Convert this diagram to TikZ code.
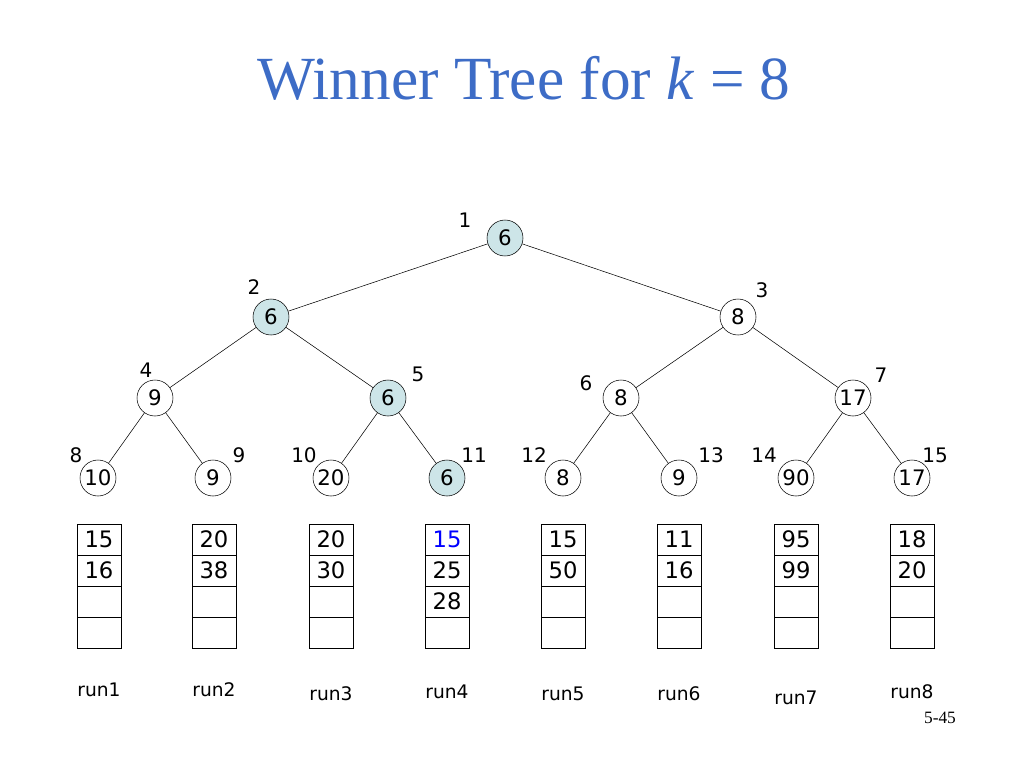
\documentclass[tikz,border=0pt]{standalone}
\usepackage{fontspec}
\setmainfont{DejaVu Sans}
\newfontfamily\ttl{Liberation Serif}
\definecolor{winfill}{HTML}{CDE5E8}
\definecolor{ttlc}{HTML}{3D6CC6}
\begin{document}
\begin{tikzpicture}[x=0.75pt,y=-0.75pt,
 nd/.style={circle,draw,minimum size=27pt,inner sep=0pt,font=\fontsize{16}{16}\selectfont},
 win/.style={nd,fill=winfill},
 idx/.style={font=\fontsize{15}{15}\selectfont},
 cell/.style={draw,minimum width=33pt,minimum height=23.25pt,inner sep=0pt,font=\fontsize{17}{17}\selectfont},
 rl/.style={font=\fontsize{14}{14}\selectfont}]
\useasboundingbox (0,0) rectangle (1024,768);
\node[font=\ttl\fontsize{46}{46}\selectfont,text=ttlc] at (524,78) {Winner Tree for \textit{k} = 8};
\node[font=\ttl\fontsize{13}{13}\selectfont] at (940,718) {5-45};
\node[win] (n1) at (505,238) {6};
\node[win] (n2) at (271,317) {6};
\node[nd] (n3) at (738,317) {8};
\node[nd] (n4) at (155,398) {9};
\node[win] (n5) at (388,398) {6};
\node[nd] (n6) at (621,398) {8};
\node[nd] (n7) at (853,398) {17};
\foreach \i/\x/\v in {8/98/10,9/213/9,10/331/20,12/563/8,13/679/9,14/796/90,15/912/17}
  \node[nd] (n\i) at (\x,478) {\v};
\node[win] (n11) at (447,478) {6};
\foreach \a/\b in {1/2,1/3,2/4,2/5,3/6,3/7,4/8,4/9,5/10,5/11,6/12,6/13,7/14,7/15}
  \draw (n\a) -- (n\b);
\foreach \t/\x/\y in {1/465/220,2/254/287,3/762/290,4/146/370,5/418/374,6/586/383,7/881/375,8/76/455,9/239/455,10/304/455,11/474/455,12/534/455,13/711/455,14/764/455,15/935/455}
  \node[idx] (l\t) at (\x,\y) {\t};
\foreach \r/\x/\a/\b/\c/\ry in {1/99/15/16//690,2/214/20/38//690,3/331/20/30//694,4/447/{\textcolor{blue}{15}}/25/28/692,5/563/15/50//694,6/679/11/16//694,7/796/95/99//698,8/912/18/20//692}{
  \node[cell] (c\r a) at (\x,539.5) {\a};
  \node[cell] (c\r b) at (\x,570.5) {\b};
  \node[cell] (c\r c) at (\x,601.5) {\c};
  \node[cell] (c\r d) at (\x,632.5) {};
  \node[rl] (r\r) at (\x,\ry) {run\r};
}
\end{tikzpicture}
\end{document}
